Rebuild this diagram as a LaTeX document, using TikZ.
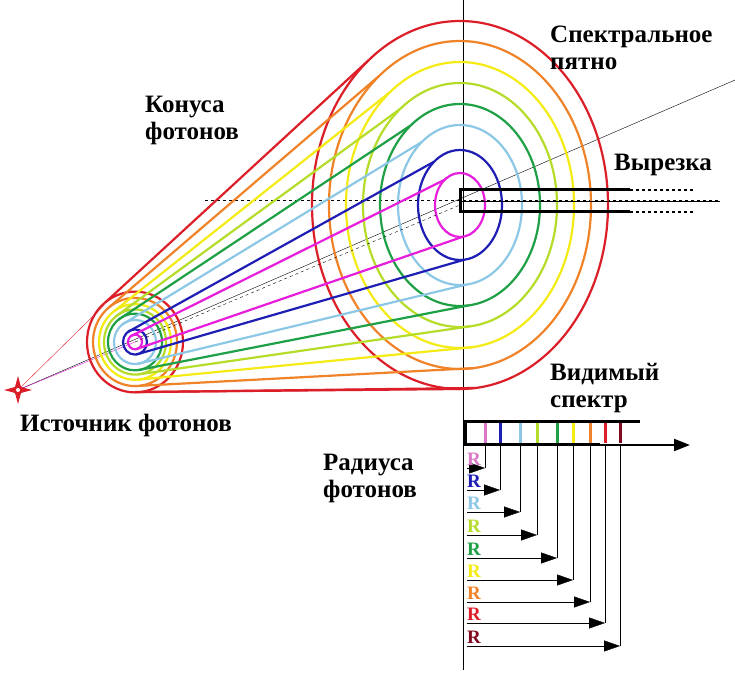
\documentclass[tikz,border=0pt]{standalone}
\usepackage{fontspec}
\setmainfont{Liberation Serif}
\usetikzlibrary{arrows.meta,calc}
\definecolor{cmag}{RGB}{230,30,220}
\definecolor{cblue}{RGB}{30,30,180}
\definecolor{clb}{RGB}{140,200,230}
\definecolor{cyg}{RGB}{180,220,40}
\definecolor{cgreen}{RGB}{30,160,70}
\definecolor{cyel}{RGB}{245,235,20}
\definecolor{cor}{RGB}{240,130,40}
\definecolor{cred}{RGB}{220,30,40}
\definecolor{cdred}{RGB}{130,10,30}
\definecolor{cpink}{RGB}{220,120,200}
\tikzset{lbl/.style={font=\bfseries\fontsize{25}{27}\selectfont,align=left,anchor=north west,inner sep=0pt},
 ring/.style={line width=2.2pt},
 rarr/.style={-{Triangle[length=16pt,width=11pt]},thin}}
\begin{document}
\begin{tikzpicture}[x=1pt,y=1pt]
\useasboundingbox (0,0) rectangle (735,680);
\fill[white] (0,0) rectangle (735,680);
% axes
\coordinate (B) at (460,475);
\coordinate (S) at (135,338);
\coordinate (star) at (18,290);
\draw[thin] (463,680) -- (463,10);
\draw[thin,dashed] (205,480) -- (720,480);
\draw[thin] (star) -- (735,600);
\draw[thin,cmag] (star) -- (S);
\draw[thin,cred] (star) -- ($(S)+(130:48)$);
% colour sets: name, small radius, big rx, big ry
\foreach \c/\r/\rx/\ry in {cred/48/148/184, cor/42/131/164, cyel/36/114/143, cyg/31/97/122, cgreen/27/80/101, clb/21/62/80, cblue/12/42/55, cmag/7/25/32}{
  \draw[ring,\c] (S) ellipse ({\r} and {\r*1.05});
  \draw[ring,\c] (B) ellipse ({\rx} and {\ry});
  \draw[ring,\c] ($(S)+(128:{\r} and {\r*1.05})$) -- ($(B)+(128:{\rx} and {\ry})$);
  \draw[ring,\c] ($(S)+(-84:{\r} and {\r*1.05})$) -- ($(B)+(-84:{\rx} and {\ry})$);
}
\draw[ring,cred] ($(S)+(0,-50)$) -- ($(B)+(0,-184)$);
\draw[thin,dashed] (S) -- (B);
% star
\fill[cred] (star) ++(0,-14) -- ++(3,11) -- ++(11,3) -- ++(-11,3) -- ++(-3,11) -- ++(-3,-11) -- ++(-11,-3) -- ++(11,-3) -- cycle;
\fill[white] (star) circle (2);
% cutout
\draw[line width=3pt] (630,490) -- (460,490) -- (460,468) -- (630,468);
\draw[line width=2pt,dashed] (630,490) -- (695,490) (630,468) -- (695,468);
\draw[thin] (460,479) -- (720,479);
% spectrum
\draw[line width=3pt] (640,258) -- (465,258) -- (465,235) -- (600,235);
\draw[line width=2pt,-{Triangle[length=16pt,width=12pt]}] (600,235) -- (690,235);
\foreach \x/\y/\c in {485/212/cpink, 500/190/cblue, 520/168/clb, 537/145/cyg, 557/122/cgreen, 573/100/cyel, 590/78/cor, 605/57/cred, 620/34/cdred}{
  \draw[line width=3pt,\c] (\x,257) -- (\x,237);
  \draw[thin] (\x,235) -- (\x,\y);
  \draw[rarr] (467,\y) -- (\x,\y);
  \node[\c,font=\bfseries\fontsize{19}{19}\selectfont,anchor=south west,inner sep=0pt] at (467,\y+2) {R};
}
% labels
\node[lbl] (t1) at (550,654) {Спектральное\\пятно};
\node[lbl] (t2) at (145,584) {Конуса\\фотонов};
\node[lbl] (t3) at (614,526) {Вырезка};
\node[lbl] (t4) at (550,317) {Видимый\\спектр};
\node[lbl] (t5) at (20,266) {Источник фотонов};
\node[lbl] (t6) at (323,226) {Радиуса\\фотонов};
\end{tikzpicture}
\end{document}
